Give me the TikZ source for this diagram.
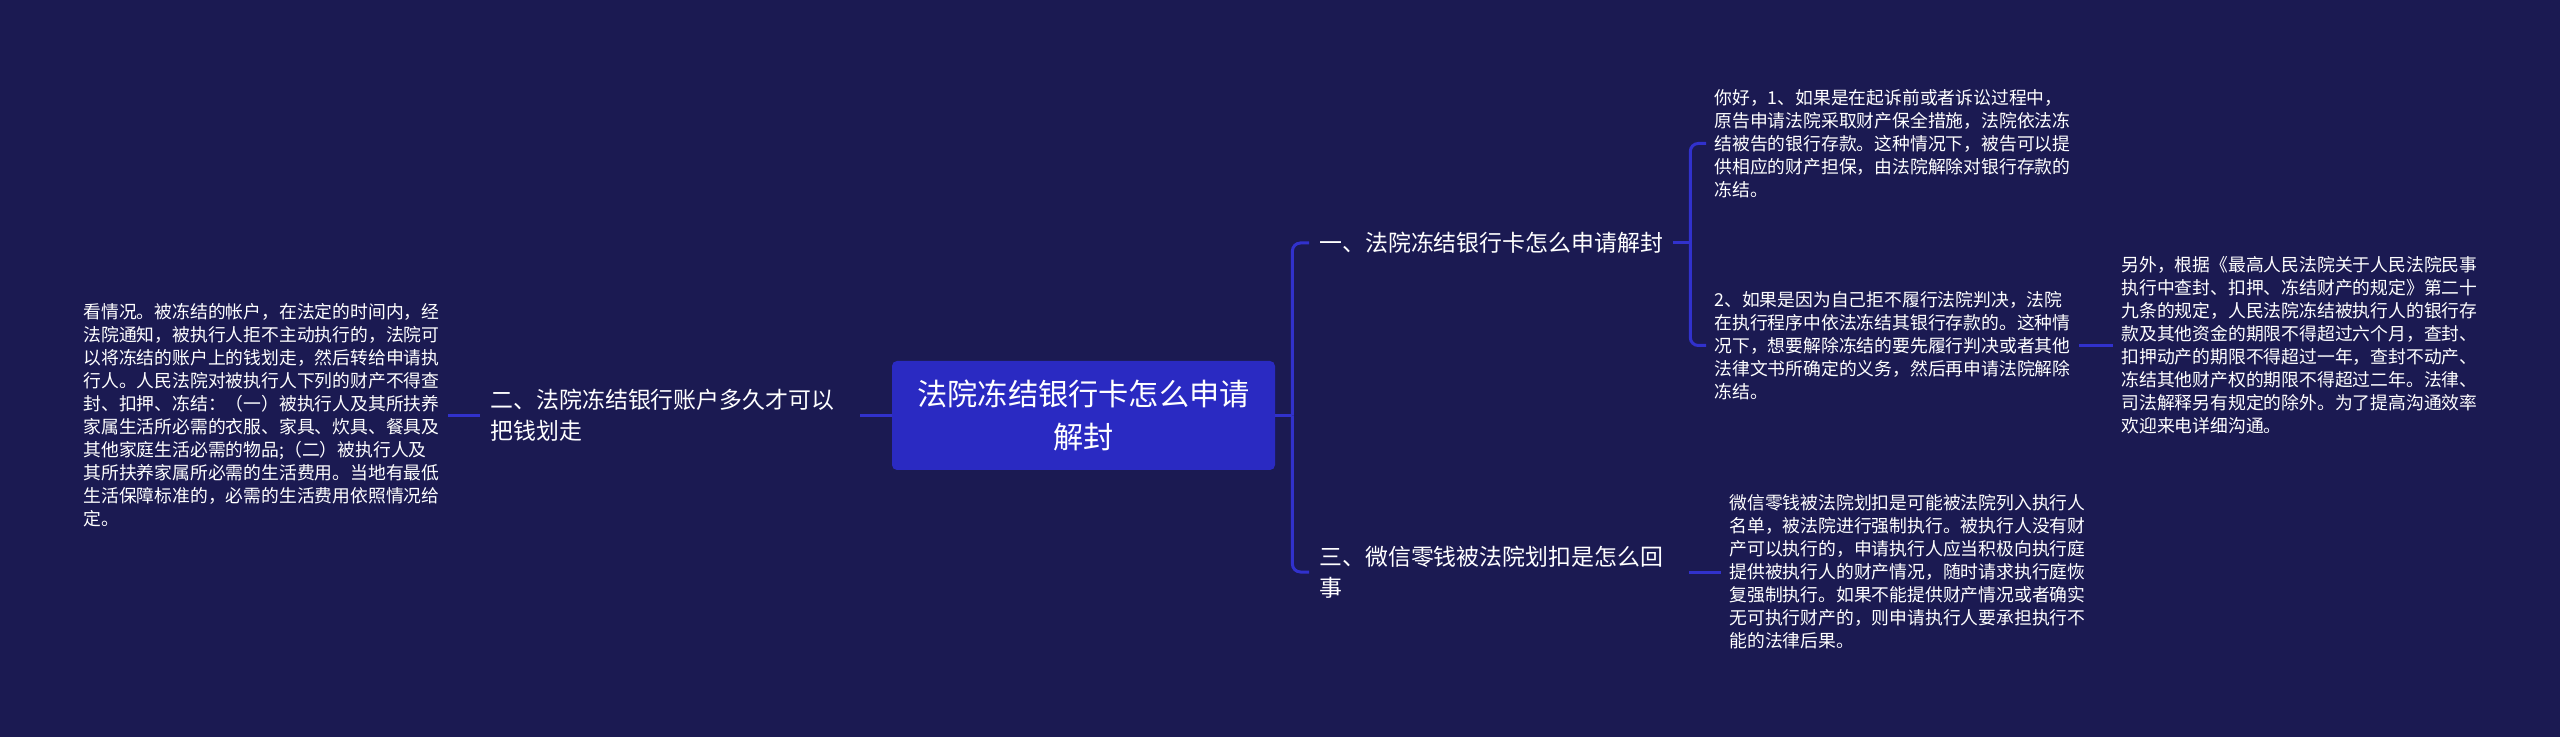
\documentclass[tikz,border=0pt]{standalone}
\usepackage{fontspec}
\setmainfont{Noto Sans CJK SC}
\usepackage{xcolor}
\usepackage{tikz}
\definecolor{bgnavy}{HTML}{1B1A52}
\definecolor{rootblue}{HTML}{2A2AC2}
\definecolor{linkblue}{HTML}{3131CC}

\begin{document}
\begin{tikzpicture}[x=0.5pt, y=-0.5pt,
  root/.style={fill=rootblue, rounded corners=2.5pt, text=white, align=center,
    minimum width=191.5pt, minimum height=54.5pt, text width=180pt,
    font=\fontsize{15.1}{21.2}\selectfont},
  branch/.style={text=white, align=left, inner xsep=5pt,
    font=\fontsize{11.45}{15.5}\selectfont},
  leaf/.style={text=white, align=left, inner xsep=4pt, text width=178pt,
    font=\fontsize{8.9}{11.5}\selectfont},
  link/.style={draw=linkblue, line width=1.5pt},
  elbow/.style={link, rounded corners=4pt}]
  \fill[bgnavy] (0,0) rectangle (2560,737);

  \node[root] (root) at (1083.5,415.5) {法院冻结银行卡怎么申请\\解封};

  \node[branch, anchor=west] (b1) at (1309,243) {一、法院冻结银行卡怎么申请解封};
  \node[branch, anchor=east, text width=179.5pt] (b2) at (860,415.5)
    {二、法院冻结银行账户多久才可以\\把钱划走};
  \node[branch, anchor=west, text width=179.5pt] (b3) at (1309,572)
    {三、微信零钱被法院划扣是怎么回\\事};

  \node[leaf, anchor=east] (leafL) at (448,415.5)
    {看情况。被冻结的帐户，在法定的时间内，经\\
     法院通知，被执行人拒不主动执行的，法院可\\
     以将冻结的账户上的钱划走，然后转给申请执\\
     行人。人民法院对被执行人下列的财产不得查\\
     封、扣押、冻结：（一）被执行人及其所扶养\\
     家属生活所必需的衣服、家具、炊具、餐具及\\
     其他家庭生活必需的物品;（二）被执行人及\\
     其所扶养家属所必需的生活费用。当地有最低\\
     生活保障标准的，必需的生活费用依照情况给\\
     定。};
  \node[leaf, anchor=west] (c1) at (1706,143.5)
    {你好，1、如果是在起诉前或者诉讼过程中，\\
     原告申请法院采取财产保全措施，法院依法冻\\
     结被告的银行存款。这种情况下，被告可以提\\
     供相应的财产担保，由法院解除对银行存款的\\
     冻结。};
  \node[leaf, anchor=west] (c2) at (1706,345.5)
    {2、如果是因为自己拒不履行法院判决，法院\\
     在执行程序中依法冻结其银行存款的。这种情\\
     况下，想要解除冻结的要先履行判决或者其他\\
     法律文书所确定的义务，然后再申请法院解除\\
     冻结。};
  \node[leaf, anchor=west] (gc) at (2113,345.5)
    {另外，根据《最高人民法院关于人民法院民事\\
     执行中查封、扣押、冻结财产的规定》第二十\\
     九条的规定，人民法院冻结被执行人的银行存\\
     款及其他资金的期限不得超过六个月，查封、\\
     扣押动产的期限不得超过一年，查封不动产、\\
     冻结其他财产权的期限不得超过二年。法律、\\
     司法解释另有规定的除外。为了提高沟通效率\\
     欢迎来电详细沟通。};
  \node[leaf, anchor=west] (c3) at (1721,572)
    {微信零钱被法院划扣是可能被法院列入执行人\\
     名单，被法院进行强制执行。被执行人没有财\\
     产可以执行的，申请执行人应当积极向执行庭\\
     提供被执行人的财产情况，随时请求执行庭恢\\
     复强制执行。如果不能提供财产情况或者确实\\
     无可执行财产的，则申请执行人要承担执行不\\
     能的法律后果。};

  \draw[link] (root.west) -- (b2.east);
  \draw[link] (b2.west) -- (leafL.east);
  \draw[link] (root.east) -- ++(17,0) coordinate (rj);
  \draw[elbow] (rj) |- (b1.west);
  \draw[elbow] (rj) |- (b3.west);
  \draw[link] (b1.east) -- ++(17,0) coordinate (j1);
  \draw[elbow] (j1) |- (c1.west);
  \draw[elbow] (j1) |- (c2.west);
  \draw[link] (c2.east) -- (gc.west);
  \draw[link] (b3.east) -- (c3.west);
\end{tikzpicture}
\end{document}
